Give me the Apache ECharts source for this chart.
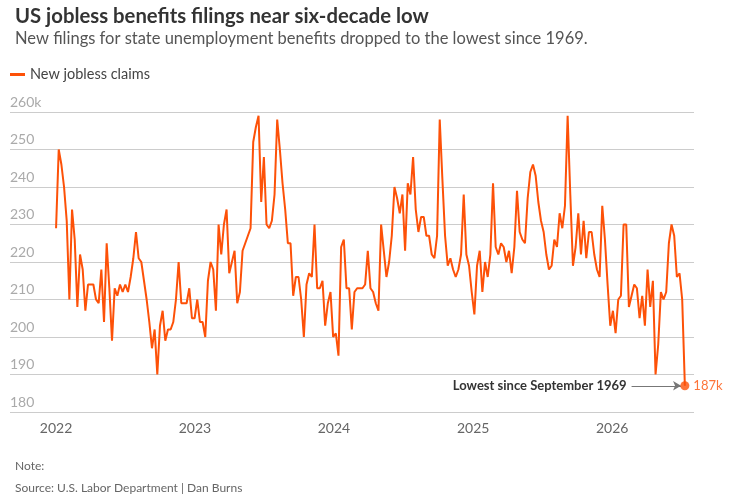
<!DOCTYPE html>
<html>
<head>
<meta charset="utf-8">
<script src="https://cdn.jsdelivr.net/npm/echarts@6/dist/echarts.min.js"></script>
<style>
  html, body { margin: 0; padding: 0; background: #fff; }
  #chart { width: 733px; height: 497px; }
</style>
</head>
<body>
<div id="chart"></div>
<script>
// weekly initial claims, thousands
const firstWeek = '2022-01-01';
const claims2022 = [229, 250, 246, 240, 231, 210, 234, 226, 208, 222, 218, 207, 214, 214, 214, 210, 209, 218, 204, 225,
  213, 199, 213, 211, 214, 212, 214, 212, 216, 221, 228, 221, 220, 215, 210, 204, 197, 202, 190, 203,
  207, 199, 202, 202, 204, 210, 220, 209, 209, 209, 213, 205];
const claims2023 = [205, 210, 204, 204, 200, 215, 220, 218, 207, 230, 222, 230, 234, 217, 220, 223, 209, 212, 223, 225,
  227, 229, 252, 256, 259, 236, 248, 230, 229, 231, 238, 258, 250, 241, 234, 225, 225, 211, 216, 216,
  210, 200, 214, 217, 216, 230, 213, 213, 215, 203, 209, 212];
const claims2024 = [200, 201, 195, 224, 226, 213, 213, 202, 212, 213, 213, 213, 214, 223, 213, 212, 209, 207, 230, 223,
  216, 220, 227, 240, 237, 233, 238, 223, 241, 238, 248, 234, 228, 232, 232, 227, 227, 222, 221, 227,
  258, 242, 227, 219, 221, 218, 216, 218, 222, 238, 222, 219];
const claims2025 = [212, 206, 219, 223, 212, 220, 216, 222, 241, 224, 222, 225, 224, 220, 223, 217, 224, 239, 228, 226,
  225, 237, 244, 246, 243, 236, 231, 228, 222, 218, 219, 226, 224, 233, 229, 235, 259, 238, 219, 224,
  233, 222, 231, 221, 228, 228, 222, 218, 216, 235, 226, 214];
const claims2026 = [203, 207, 201, 210, 211, 230, 230, 208, 211, 214, 213, 205, 211, 203, 218, 208, 215, 190, 198, 212,
  210, 212, 225, 230, 227, 216, 217, 210, 187];
const yearTicks = ['2022', '2023', '2024', '2025', '2026'];
const yTicks = [180, 190, 200, 210, 220, 230, 240, 250, 260];
const noteText = 'Lowest since September 1969';

const claims = [].concat(claims2022, claims2023, claims2024, claims2025, claims2026);
const DAY = 86400000;
const t0 = Date.parse(firstWeek + 'T00:00:00Z');
const lineData = claims.map((v, i) => [t0 + i * 7 * DAY, v]);
const last = lineData[lineData.length - 1];
const arrowFrom = lineData[lineData.length - 21][0];

const orange = '#fd5108';
const font = 'Lato';

const chart = echarts.init(document.getElementById('chart'), null, { renderer: 'canvas' });
chart.setOption({
  animation: false,
  textStyle: { fontFamily: font },
  title: [
    {
      text: 'US jobless benefits filings near six-decade low',
      left: 10, top: 1,
      textStyle: { fontFamily: font, fontSize: 20.3, fontWeight: 'bold', color: '#333' }
    },
    {
      text: 'New filings for state unemployment benefits dropped to the lowest since 1969.',
      left: 10, top: 25,
      textStyle: { fontFamily: font, fontSize: 16.5, fontWeight: 'normal', color: '#555' }
    },
    {
      text: 'Note:',
      left: 10, top: 455,
      textStyle: { fontFamily: font, fontSize: 12, fontWeight: 'normal', color: '#666' }
    },
    {
      text: 'Source: U.S. Labor Department | Dan Burns',
      left: 10, top: 477,
      textStyle: { fontFamily: font, fontSize: 12, fontWeight: 'normal', color: '#666' }
    }
  ],
  legend: {
    data: ['New jobless claims'],
    left: 5, top: 62,
    icon: 'rect',
    itemWidth: 15, itemHeight: 3,
    textStyle: { fontFamily: font, fontSize: 14.5, color: '#444' }
  },
  grid: { left: 10, right: 39, top: 112, bottom: 85, containLabel: false },
  xAxis: {
    type: 'value',
    min: Date.UTC(2021, 8, 2),
    max: Date.UTC(2026, 7, 4),
    axisLine: { show: false },
    axisTick: { show: false },
    splitLine: { show: false },
    axisLabel: {
      customValues: yearTicks.map(y => Date.UTC(+y, 0, 1)),
      formatter: v => String(new Date(v).getUTCFullYear()),
      color: '#666', fontSize: 14, margin: 9, fontFamily: font
    }
  },
  yAxis: {
    type: 'value',
    min: yTicks[0], max: yTicks[yTicks.length - 1], interval: 10,
    axisLine: { show: false },
    axisTick: { show: false },
    splitLine: { lineStyle: { color: '#cccccc', width: 1 } },
    axisLabel: {
      inside: true,
      align: 'left',
      verticalAlign: 'bottom',
      margin: 0,
      padding: [0, 0, 3, 0],
      color: '#aaa', fontSize: 14, fontFamily: font,
      formatter: v => v === 260 ? '260k' : String(v)
    }
  },
  series: [
    {
      name: 'New jobless claims',
      type: 'line',
      data: lineData,
      symbol: 'none',
      lineStyle: { color: orange, width: 2 },
      itemStyle: { color: orange },
      z: 3
    },
    {
      name: 'latest',
      type: 'scatter',
      data: [last],
      symbol: 'circle',
      symbolSize: 9,
      itemStyle: { color: orange },
      z: 5,
      label: {
        show: true, position: 'right', distance: 4,
        formatter: p => p.value[1] + 'k',
        color: orange, fontSize: 13, fontFamily: font
      },
      markLine: {
        silent: true,
        symbol: ['none', 'arrow'],
        symbolSize: [7, 8],
        lineStyle: { color: '#777', width: 1, type: 'solid' },
        label: {
          show: true, position: 'start', distance: 5,
          formatter: noteText,
          color: '#333', fontSize: 13, fontWeight: 'bold', fontFamily: font
        },
        data: [[{ coord: [arrowFrom, last[1]] }, { coord: [last[0] - 10 * DAY, last[1]] }]]
      }
    }
  ]
});
</script>
</body>
</html>
